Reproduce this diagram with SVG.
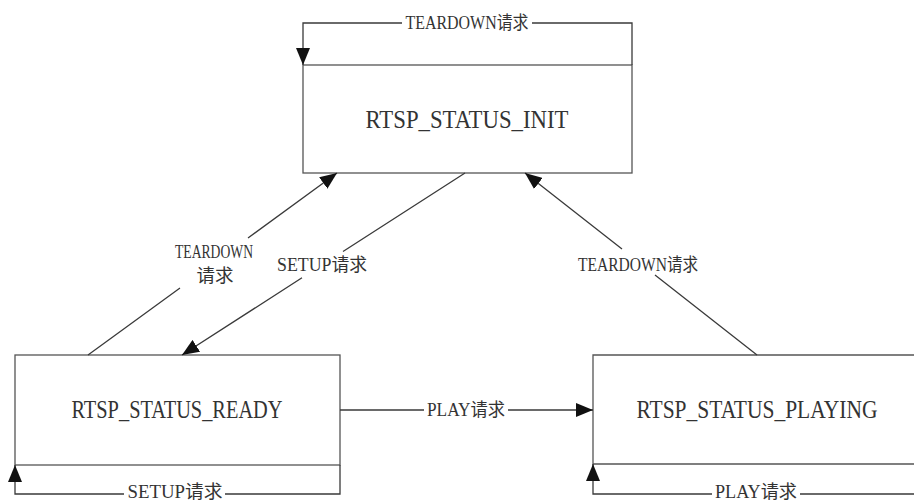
<svg xmlns="http://www.w3.org/2000/svg" width="914" height="501" viewBox="0 0 914 501">
<defs>
<marker id="arr" markerUnits="userSpaceOnUse" markerWidth="18" markerHeight="14" refX="17" refY="7" orient="auto">
<path d="M0,0 L17,7 L0,14 Z" fill="#111"/>
</marker>
<style>
.box{fill:#fff;stroke:#555;stroke-width:1.3}
.conn{fill:none;stroke:#3a3a3a;stroke-width:1.3}
.name{font-family:"Liberation Serif","Noto Sans CJK SC",serif;font-size:25px;fill:#333;text-anchor:middle}
.lbl{font-family:"Liberation Serif","Noto Sans CJK SC",serif;font-size:18px;fill:#333;text-anchor:middle}
</style>
</defs>
<rect width="914" height="501" fill="#fff"/>
<g id="node-init">
<rect class="box" x="303" y="65" width="329" height="108"/>
<text class="name" x="467" y="128" textLength="203" lengthAdjust="spacingAndGlyphs">RTSP_STATUS_INIT</text>
</g>
<g id="node-ready">
<rect class="box" x="15" y="355" width="325" height="110"/>
<text class="name" x="177" y="418" textLength="211" lengthAdjust="spacingAndGlyphs">RTSP_STATUS_READY</text>
</g>
<g id="node-playing">
<path class="box" d="M914,355 H593 V464 H914"/>
<text class="name" x="757" y="418" textLength="241" lengthAdjust="spacingAndGlyphs">RTSP_STATUS_PLAYING</text>
</g>
<g id="connectors">
<path class="conn" d="M632,65 V23 H532 M402,23 H303 V65" marker-end="url(#arr)"/>
<text class="lbl" x="467" y="29" textLength="123" lengthAdjust="spacingAndGlyphs">TEARDOWN请求</text>
<path class="conn" d="M88,355 L180,288 M248,238 L337,173" marker-end="url(#arr)"/>
<text class="lbl" x="214" y="258" textLength="78" lengthAdjust="spacingAndGlyphs">TEARDOWN</text>
<text class="lbl" x="215" y="282" textLength="37" lengthAdjust="spacingAndGlyphs">请求</text>
<path class="conn" d="M465,173 L343,251.5 M302,277.8 L182,355" marker-end="url(#arr)"/>
<text class="lbl" x="322" y="271" textLength="90" lengthAdjust="spacingAndGlyphs">SETUP请求</text>
<path class="conn" d="M757,355 L655,275 M622,249 L525,173" marker-end="url(#arr)"/>
<text class="lbl" x="638" y="271" textLength="120" lengthAdjust="spacingAndGlyphs">TEARDOWN请求</text>
<path class="conn" d="M340,410 H424 M508,410 H593" marker-end="url(#arr)"/>
<text class="lbl" x="466" y="416" textLength="78" lengthAdjust="spacingAndGlyphs">PLAY请求</text>
<path class="conn" d="M340,465 V494 H225 M124,494 H15 V465" marker-end="url(#arr)"/>
<text class="lbl" x="175" y="498" textLength="95" lengthAdjust="spacingAndGlyphs">SETUP请求</text>
<path class="conn" d="M920,494 H800 M712,494 H593 V464" marker-end="url(#arr)"/>
<text class="lbl" x="756" y="498" textLength="82" lengthAdjust="spacingAndGlyphs">PLAY请求</text>
</g>
</svg>
